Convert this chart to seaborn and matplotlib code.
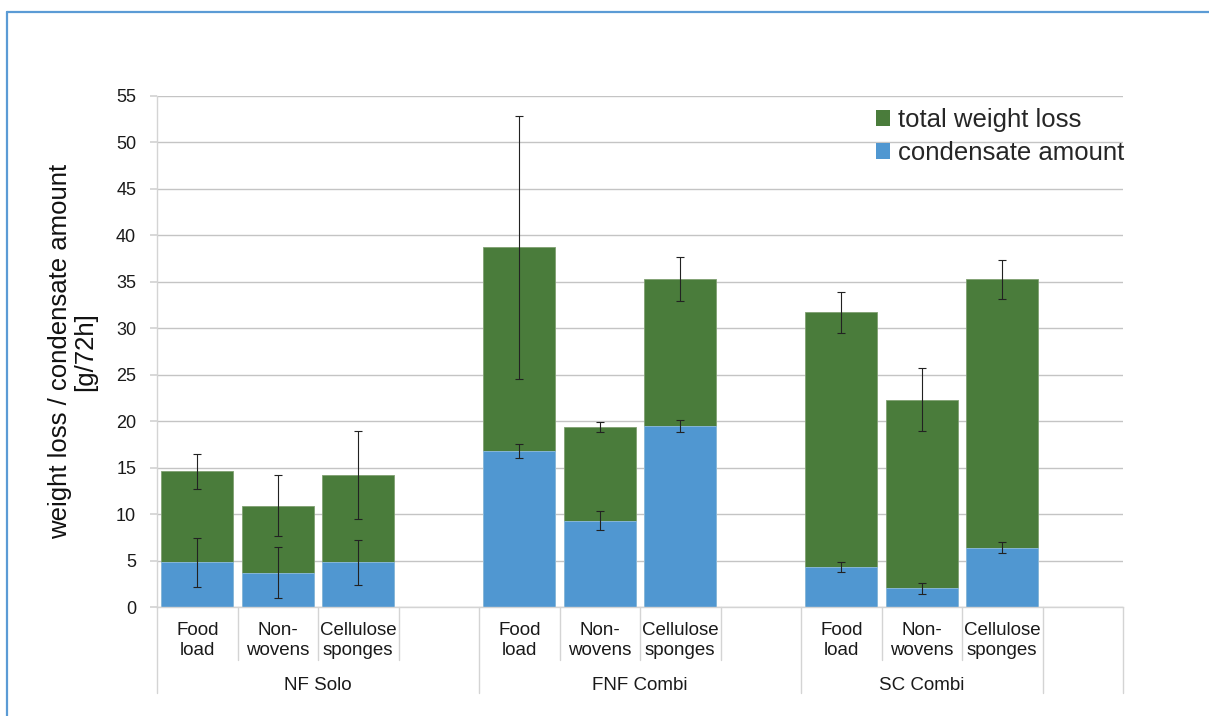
import matplotlib
matplotlib.use("Agg")
import matplotlib.pyplot as plt
from matplotlib.patches import Patch
from matplotlib.lines import Line2D
import seaborn as sns
import pandas as pd
import numpy as np

# ---- data ----
groups = ["NF Solo", "FNF Combi", "SC Combi"]
materials = ["Food\nload", "Non-\nwovens", "Cellulose\nsponges"]
total_loss = [14.6, 10.9, 14.2, 38.7, 19.4, 35.3, 31.7, 22.3, 35.3]
total_err = [1.9, 3.3, 4.75, 14.2, 0.55, 2.4, 2.25, 3.4, 2.1]
condensate = [4.8, 3.7, 4.8, 16.8, 9.3, 19.5, 4.3, 2.0, 6.4]
cond_err = [2.6, 2.75, 2.45, 0.74, 1.0, 0.63, 0.52, 0.59, 0.6]
yticks = [0, 5, 10, 15, 20, 25, 30, 35, 40, 45, 50, 55]

GREEN = "#4a7c3b"
BLUE = "#5097d1"

sns.set_theme(style="white")
plt.rcParams["font.family"] = ["Liberation Sans", "DejaVu Sans"]

rows = []
for gi, g in enumerate(groups):
    for mi, m in enumerate(materials):
        k = gi * 3 + mi
        rows.append({"group": g, "material": m, "slot": gi * 4 + mi,
                     "total": total_loss[k], "total_err": total_err[k],
                     "cond": condensate[k], "cond_err": cond_err[k]})
df = pd.DataFrame(rows)

fig = plt.figure(figsize=(12.09, 7.16), dpi=100)
ax = fig.add_axes([157 / 1209, 1 - 607 / 716, 966 / 1209, 511 / 716])

sns.barplot(data=df, x="slot", y="total", native_scale=True, color=GREEN,
            saturation=1, width=0.9, errorbar=None, ax=ax,
            edgecolor="#7fa071", linewidth=0.6)
sns.barplot(data=df, x="slot", y="cond", native_scale=True, color=BLUE,
            saturation=1, width=0.9, errorbar=None, ax=ax,
            edgecolor="#8fbde3", linewidth=0.6)

ax.errorbar(df["slot"], df["total"], yerr=df["total_err"], fmt="none",
            ecolor="#222222", elinewidth=0.8, capsize=3, capthick=0.8, zorder=5)
ax.errorbar(df["slot"], df["cond"], yerr=df["cond_err"], fmt="none",
            ecolor="#222222", elinewidth=0.8, capsize=3, capthick=0.8, zorder=5)

ax.set_xlim(-0.5, 11.5)
ax.set_ylim(0, 55)
ax.set_yticks(yticks)
ax.set_yticklabels([str(v) for v in yticks], fontsize=13, color="#1a1a1a")
ax.yaxis.grid(True, color="#c4c4c4", linewidth=1)
ax.set_axisbelow(True)
for s in ["top", "right"]:
    ax.spines[s].set_visible(False)
for s in ["left", "bottom"]:
    ax.spines[s].set_color("#d4d4d4")
    ax.spines[s].set_linewidth(1)
ax.tick_params(axis="y", left=True, length=5, color="#d4d4d4", pad=10)

ax.set_xticks(df["slot"])
ax.set_xticklabels(df["material"], fontsize=13.5, color="#1a1a1a",
                   linespacing=1.2)
ax.tick_params(axis="x", length=0, pad=11)
ax.set_xlabel("")

ax.set_ylabel("weight loss / condensate amount\n[g/72h]", fontsize=18.5,
              color="#111111", linespacing=1.05)
ax.yaxis.set_label_coords(-0.062, 0.5)

# category separators
trans = ax.get_xaxis_transform()
short_y = -53 / 511
long_y = -86 / 511
bounds = np.arange(-0.5, 12, 1.0)
long_bounds = {-0.5, 3.5, 7.5, 10.5, 11.5}
for b in bounds:
    yb = long_y if b in long_bounds else short_y
    ax.plot([b, b], [0, yb], transform=trans, color="#d4d4d4", lw=1,
            clip_on=False)

# group labels
group_centers = [1.5, 5.5, 9.0]
for g, c in zip(groups, group_centers):
    ax.text(c, -78 / 511, g, transform=trans, ha="center", va="center",
            fontsize=13.5, color="#1a1a1a")

# legend
handles = [Patch(facecolor=GREEN, edgecolor="none", label="total weight loss"),
           Patch(facecolor=BLUE, edgecolor="none", label="condensate amount")]
fig.legend(handles=handles, loc="upper left",
           bbox_to_anchor=(876 / 1209, 1 - 108 / 716), frameon=False,
           fontsize=18.5, handlelength=0.55, handleheight=0.55,
           handletextpad=0.3, labelspacing=0.35, borderpad=0,
           borderaxespad=0)

# figure border
fig.add_artist(Line2D([7 / 1209, 1.0], [1 - 12 / 716, 1 - 12 / 716],
                      transform=fig.transFigure, color="#5b9bd5", lw=1.6))
fig.add_artist(Line2D([7 / 1209, 7 / 1209], [0.0, 1 - 12 / 716],
                      transform=fig.transFigure, color="#5b9bd5", lw=1.6))

fig.savefig("out.png", dpi=100, facecolor="white")
